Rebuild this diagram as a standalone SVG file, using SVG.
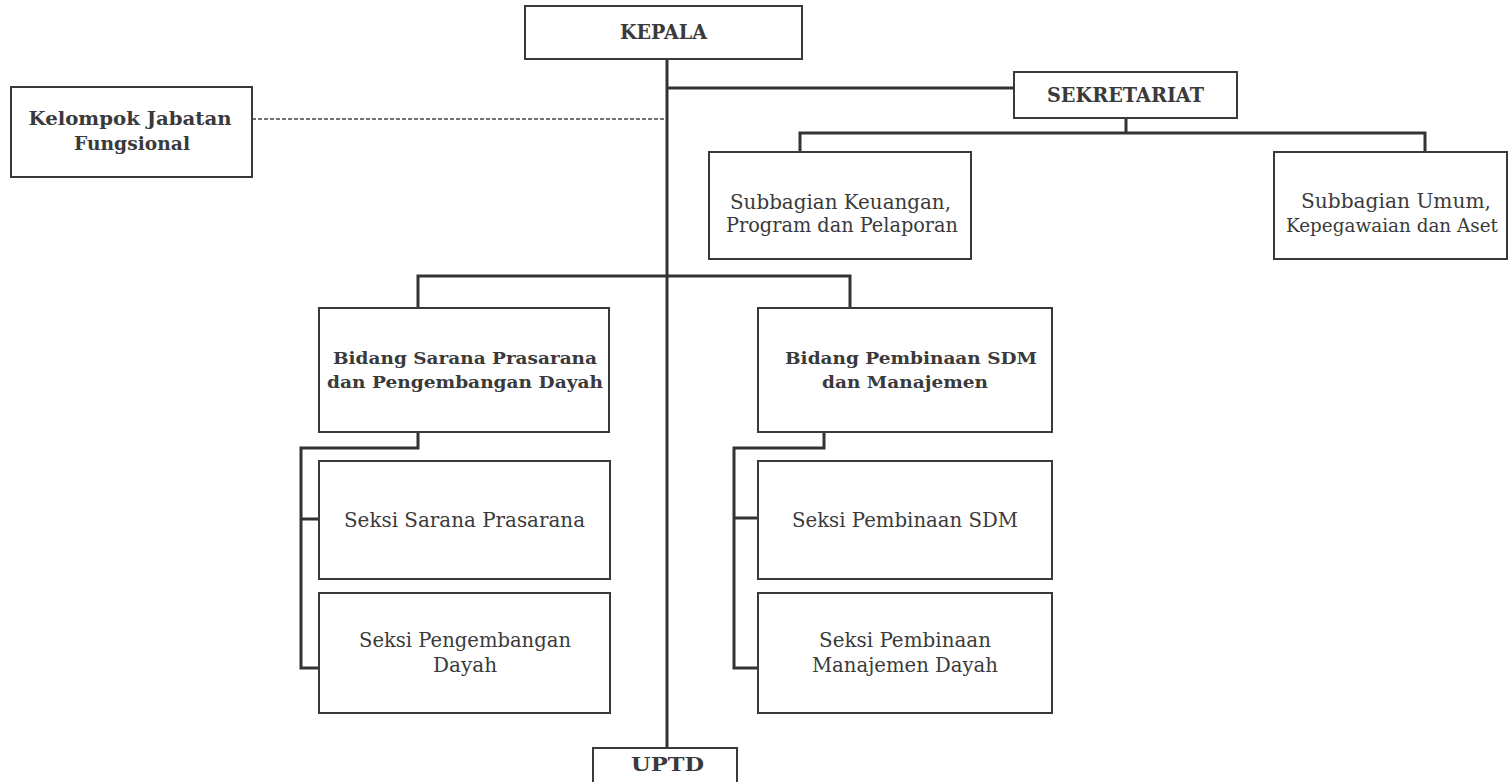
<svg xmlns="http://www.w3.org/2000/svg" width="1509" height="782" viewBox="0 0 1509 782">
<style>
.box{fill:#fff;stroke:#3a3a3a;stroke-width:2}
.c{fill:none;stroke:#333;stroke-width:3}
.d{fill:none;stroke:#444;stroke-width:1.4;stroke-dasharray:4 2}
text{font-family:"DejaVu Serif","Liberation Serif",serif;fill:#3a3a3a;text-anchor:middle}
.b{font-weight:bold}
.r{font-size:20px}
</style>
<rect width="1509" height="782" fill="#fff"/>
<g id="connectors">
<line class="d" x1="252" y1="119" x2="667" y2="119"/>
<line class="c" x1="667" y1="59" x2="667" y2="748"/>
<line class="c" x1="667" y1="88" x2="1014" y2="88"/>
<polyline class="c" points="1126,118 1126,133"/>
<polyline class="c" points="800,152 800,133 1425,133 1425,152"/>
<polyline class="c" points="418,308 418,276 850,276 850,308"/>
<polyline class="c" points="418,432 418,448 301,448 301,668 319,668"/>
<line class="c" x1="301" y1="519" x2="319" y2="519"/>
<polyline class="c" points="824,432 824,448 734,448 734,668 758,668"/>
<line class="c" x1="734" y1="518" x2="758" y2="518"/>
</g>
<g id="kepala">
<rect class="box" x="525" y="6" width="277" height="53"/>
<text class="b" x="663.5" y="39" font-size="20" textLength="87" lengthAdjust="spacingAndGlyphs">KEPALA</text>
</g>
<g id="kelompok">
<rect class="box" x="11" y="87" width="241" height="90"/>
<text class="b" x="130" y="125" font-size="18" textLength="203" lengthAdjust="spacingAndGlyphs">Kelompok Jabatan</text>
<text class="b" x="132" y="150" font-size="18" textLength="116" lengthAdjust="spacingAndGlyphs">Fungsional</text>
</g>
<g id="sekretariat">
<rect class="box" x="1014" y="72" width="223" height="46"/>
<text class="b" x="1125.5" y="102" font-size="20" textLength="157" lengthAdjust="spacingAndGlyphs">SEKRETARIAT</text>
</g>
<g id="subbagian-keuangan">
<rect class="box" x="709" y="152" width="262" height="107"/>
<text class="r" x="840.5" y="209" textLength="221" lengthAdjust="spacingAndGlyphs">Subbagian Keuangan,</text>
<text class="r" x="842" y="232" textLength="232" lengthAdjust="spacingAndGlyphs">Program dan Pelaporan</text>
</g>
<g id="subbagian-umum">
<rect class="box" x="1274" y="152" width="233" height="107"/>
<text class="r" x="1396" y="208" textLength="190" lengthAdjust="spacingAndGlyphs">Subbagian Umum,</text>
<text x="1392" y="232" font-size="18" textLength="212" lengthAdjust="spacingAndGlyphs">Kepegawaian dan Aset</text>
</g>
<g id="bidang-sarana">
<rect class="box" x="319" y="308" width="290" height="124"/>
<text class="b" x="465" y="364" font-size="17" textLength="264" lengthAdjust="spacingAndGlyphs">Bidang Sarana Prasarana</text>
<text class="b" x="465" y="388" font-size="17" textLength="276" lengthAdjust="spacingAndGlyphs">dan Pengembangan Dayah</text>
</g>
<g id="bidang-pembinaan">
<rect class="box" x="758" y="308" width="294" height="124"/>
<text class="b" x="911" y="364" font-size="17" textLength="252" lengthAdjust="spacingAndGlyphs">Bidang Pembinaan SDM</text>
<text class="b" x="905" y="388" font-size="17" textLength="166" lengthAdjust="spacingAndGlyphs">dan Manajemen</text>
</g>
<g id="seksi-sarana">
<rect class="box" x="319" y="461" width="291" height="118"/>
<text class="r" x="464.5" y="527" textLength="241" lengthAdjust="spacingAndGlyphs">Seksi Sarana Prasarana</text>
</g>
<g id="seksi-pengembangan">
<rect class="box" x="319" y="593" width="291" height="120"/>
<text class="r" x="465" y="647" textLength="212" lengthAdjust="spacingAndGlyphs">Seksi Pengembangan</text>
<text class="r" x="465" y="672" textLength="64" lengthAdjust="spacingAndGlyphs">Dayah</text>
</g>
<g id="seksi-sdm">
<rect class="box" x="758" y="461" width="294" height="118"/>
<text class="r" x="905" y="527" textLength="226" lengthAdjust="spacingAndGlyphs">Seksi Pembinaan SDM</text>
</g>
<g id="seksi-manajemen">
<rect class="box" x="758" y="593" width="294" height="120"/>
<text class="r" x="905" y="647" textLength="172" lengthAdjust="spacingAndGlyphs">Seksi Pembinaan</text>
<text class="r" x="905" y="672" textLength="186" lengthAdjust="spacingAndGlyphs">Manajemen Dayah</text>
</g>
<g id="uptd">
<rect class="box" x="593" y="748" width="144" height="40"/>
<text class="b" x="667.5" y="771" font-size="18" textLength="73" lengthAdjust="spacingAndGlyphs">UPTD</text>
</g>
</svg>
